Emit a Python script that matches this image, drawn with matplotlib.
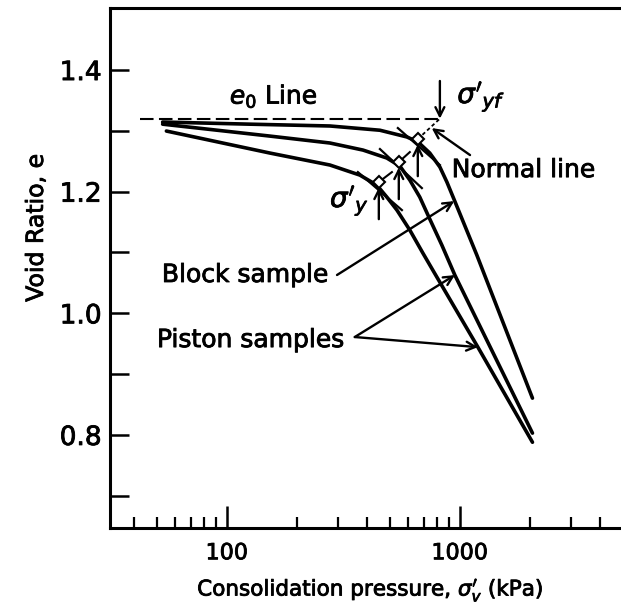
import numpy as np
import matplotlib
matplotlib.use("Agg")
import matplotlib.pyplot as plt
import matplotlib.patheffects as pe
from matplotlib.ticker import FixedLocator, NullFormatter, FixedFormatter

# e-log p curves: pressure (kPa), void ratio
block_p = [53, 125, 277, 454, 592, 660, 743, 821, 880, 951, 1183, 2050]
block_e = [1.3145, 1.311, 1.308, 1.301, 1.290, 1.282, 1.2635, 1.2405, 1.2158,
           1.1845, 1.0957, 0.8605]

piston1_p = [53, 153, 277, 384, 486, 553, 610, 673, 743, 837, 952, 2050]
piston1_e = [1.311, 1.2914, 1.280, 1.2684, 1.2553, 1.2421, 1.2191, 1.1911,
             1.1549, 1.1122, 1.0628, 0.803]

piston2_p = [55, 153, 277, 372, 440, 486, 537, 610, 694, 797, 1195, 2050]
piston2_e = [1.2997, 1.2635, 1.2438, 1.2273, 1.2109, 1.1911, 1.1697, 1.1368,
             1.099, 1.0595, 0.9444, 0.788]

# e0 line
e0 = 1.32
e0_p = [42.4, 821]

# yield points (lower piston, upper piston, block)
yield_p = [449, 547, 660]
yield_e = [1.2158, 1.2487, 1.2865]

# tangent segments at the yield points
tan_p = [(365, 564), (454, 687), (542, 821)]
tan_e = [(1.2322, 1.1697), (1.2701, 1.2059), (1.3046, 1.2438)]

# normals from the yield points; the block one runs up to the e0 line
norm_p = [(449, 511), (547, 610), (660, 821)]
norm_e = [(1.2158, 1.2322), (1.2487, 1.2651), (1.2865, 1.320)]

x_major = [100, 1000]
x_minor = [40, 50, 60, 70, 80, 90, 200, 300, 400, 500, 600, 700, 800, 900,
           2000, 3000, 4000]
y_major = [0.8, 1.0, 1.2, 1.4]
y_minor = [0.7, 0.9, 1.1, 1.3]

plt.rcParams['font.family'] = ['DejaVu Sans']
plt.rcParams['mathtext.fontset'] = 'dejavusans'

fig = plt.figure(figsize=(6.21, 6.11), dpi=100)
ax = fig.add_axes([110 / 621, 1 - 528 / 611, 511 / 621, 520 / 611])

ax.set_xscale('log')
ax.set_xlim(31.5, 4918)
ax.set_ylim(0.647, 1.502)

heavy = [pe.withStroke(linewidth=0.6, foreground='k')]

for p, e in [(block_p, block_e), (piston1_p, piston1_e), (piston2_p, piston2_e)]:
    ax.plot(p, e, color='k', lw=2.6, solid_capstyle='round', solid_joinstyle='round')

ax.plot(e0_p, [e0, e0], color='k', lw=1.5, dashes=(6.5, 2.6))

for tp, te in zip(tan_p, tan_e):
    ax.plot(tp, te, color='k', lw=1.6)

for i, (np_, ne) in enumerate(zip(norm_p, norm_e)):
    if i == 2:
        ax.plot(np_, ne, color='k', lw=1.3, dashes=(2, 1.5))
    else:
        ax.plot(np_, ne, color='k', lw=1.5)

ax.plot(yield_p, yield_e, ls='none', marker='D', ms=6.5,
        mfc='white', mec='k', mew=1.5, zorder=5)

arrow = dict(arrowstyle='->', lw=1.7, color='k', mutation_scale=16,
             shrinkA=0, shrinkB=0)
for p, e in zip(yield_p, yield_e):
    ax.annotate('', xy=(p, e - 0.009), xytext=(p, e - 0.061), arrowprops=arrow)

# sigma'_yf arrow down onto e0 line
ax.annotate('', xy=(821, e0), xytext=(821, 1.382), arrowprops=arrow)
# normal line arrow
ax.annotate('', xy=(757, 1.3046), xytext=(1106, 1.2602), arrowprops=arrow)
# block sample arrow
ax.annotate('', xy=(946, 1.1845), xytext=(297, 1.063), arrowprops=arrow)
# piston samples arrows
ax.annotate('', xy=(952, 1.0628), xytext=(354, 0.961), arrowprops=arrow)
ax.annotate('', xy=(1195, 0.9444), xytext=(354, 0.961), arrowprops=arrow)

fs = 18
texts = [
    ax.text(103, 1.357, r'$e_0$ Line', fontsize=fs, ha='left', va='center'),
    ax.text(975, 1.356, r"$\sigma'_{yf}$", fontsize=fs + 2, ha='left', va='center'),
    ax.text(923, 1.2355, 'Normal line', fontsize=fs, ha='left', va='center'),
    ax.text(277, 1.185, r"$\sigma'_{y}$", fontsize=fs + 2, ha='left', va='center'),
    ax.text(52.6, 1.063, 'Block sample', fontsize=fs, ha='left', va='center'),
    ax.text(50.1, 0.956, 'Piston samples', fontsize=fs, ha='left', va='center'),
    ax.text(-0.145, 0.577, 'Void Ratio, e', transform=ax.transAxes, rotation=90,
            fontsize=17, ha='center', va='center'),
    ax.text(0.509, -0.119, r"Consolidation pressure, $\sigma_v'$ (kPa)",
            transform=ax.transAxes, fontsize=15.5, ha='center', va='center'),
]
for t in texts:
    t.set_path_effects(heavy)

ax.spines['right'].set_visible(False)
for s in ['left', 'bottom', 'top']:
    ax.spines[s].set_linewidth(2.2)

ax.xaxis.set_major_locator(FixedLocator(x_major))
ax.xaxis.set_minor_locator(FixedLocator(x_minor))
ax.xaxis.set_major_formatter(FixedFormatter(['100', '1000']))
ax.xaxis.set_minor_formatter(NullFormatter())
ax.yaxis.set_major_locator(FixedLocator(y_major))
ax.yaxis.set_minor_locator(FixedLocator(y_minor))
ax.yaxis.set_major_formatter(FixedFormatter(['0.8', '1.0', '1.2', '1.4']))

ax.tick_params(axis='x', which='major', direction='in', length=16, width=1.8,
               labelsize=16, pad=11)
ax.tick_params(axis='x', which='minor', direction='in', length=8, width=1.6)
ax.tick_params(axis='y', which='both', direction='in', length=14, width=1.8,
               labelsize=19, pad=6)
for lab in ax.get_xticklabels() + ax.get_yticklabels():
    lab.set_path_effects(heavy)

fig.savefig('out.png', dpi=100)
